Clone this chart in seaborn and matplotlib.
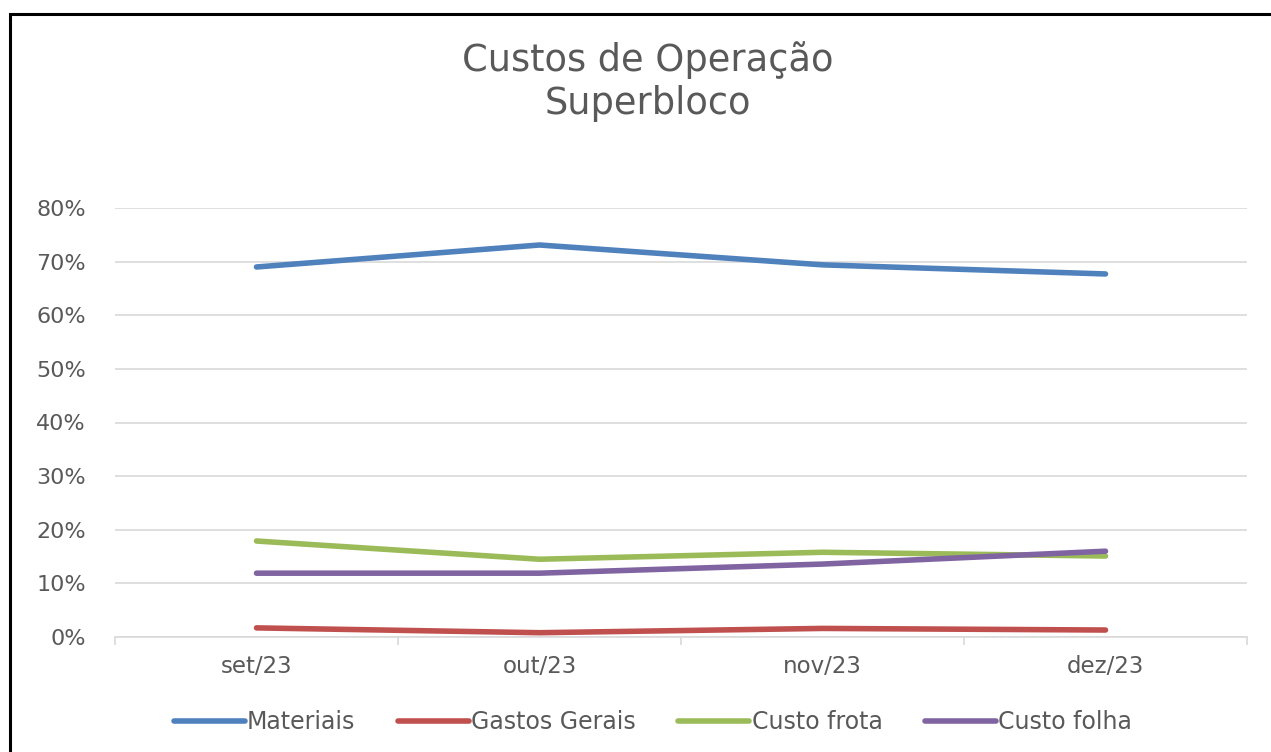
import matplotlib
matplotlib.use("Agg")
import matplotlib.pyplot as plt
from matplotlib.patches import Rectangle
from matplotlib.ticker import FixedLocator, PercentFormatter
import pandas as pd
import seaborn as sns


MONTHS = ["set/23", "out/23", "nov/23", "dez/23"]
MATERIAIS = [0.690, 0.731, 0.694, 0.677]
GASTOS_GERAIS = [0.017, 0.008, 0.016, 0.013]
CUSTO_FROTA = [0.179, 0.145, 0.158, 0.151]
CUSTO_FOLHA = [0.119, 0.119, 0.136, 0.160]
SERIES = ["Materiais", "Gastos Gerais", "Custo frota", "Custo folha"]
COLORS = ["#4F81BD", "#C0504D", "#9BBB59", "#8064A2"]

TEXT = "#595959"
GRID = "#d9d9d9"


def build_frame():
    rows = []
    for name, vals in zip(SERIES, [MATERIAIS, GASTOS_GERAIS, CUSTO_FROTA, CUSTO_FOLHA]):
        for m, v in zip(MONTHS, vals):
            rows.append({"mes": m, "valor": v, "serie": name})
    return pd.DataFrame(rows)


sns.set_theme(style="white")
plt.rcParams["font.family"] = ["DejaVu Sans"]

df = build_frame()

fig = plt.figure(figsize=(12.71, 7.52), dpi=100)
ax = fig.add_axes([115 / 1271, 1 - 637 / 752, (1247 - 115) / 1271, (637 - 208) / 752])

sns.lineplot(data=df, x="mes", y="valor", hue="serie", hue_order=SERIES,
             palette=COLORS, linewidth=4.0, ax=ax, sort=False,
             solid_capstyle="round", solid_joinstyle="round")

ax.set_xlim(-0.5, 3.5)
ax.set_ylim(0, 0.8)
ax.set_yticks([i / 10 for i in range(9)])
ax.yaxis.set_major_formatter(PercentFormatter(1.0, decimals=0))
ax.grid(axis="y", color=GRID, linewidth=1.2)
ax.set_axisbelow(True)
for s in ["top", "right", "left"]:
    ax.spines[s].set_visible(False)
ax.spines["bottom"].set_color(GRID)
ax.spines["bottom"].set_linewidth(1.2)

ax.xaxis.set_minor_locator(FixedLocator([-0.5, 0.5, 1.5, 2.5, 3.5]))
ax.tick_params(axis="x", which="minor", length=6, width=1.2, color=GRID, direction="out", bottom=True)
ax.tick_params(axis="x", which="major", length=0, pad=13, labelsize=16.5, labelcolor=TEXT)
ax.tick_params(axis="y", length=0, pad=21, labelsize=16, labelcolor=TEXT)
ax.set_xlabel("")
ax.set_ylabel("")

leg = ax.legend(loc="center", bbox_to_anchor=(653 / 1271, 1 - 722 / 752),
                bbox_transform=fig.transFigure, ncol=4, frameon=False,
                fontsize=17, handlelength=3.0, handletextpad=0.1, columnspacing=1.8,
                labelcolor=TEXT)
for line in leg.get_lines():
    line.set_linewidth(4.0)
    line.set_solid_capstyle("round")

fig.text(648 / 1271, 1 - 60 / 752, "Custos de Operação", ha="center", va="center",
         fontsize=26.5, color=TEXT)
fig.text(648 / 1271, 1 - 104 / 752, "Superbloco", ha="center", va="center",
         fontsize=26.5, color=TEXT)

fig.patches.append(Rectangle((10 / 1271, -0.05), 1.1, 1.05 - 14 / 752, transform=fig.transFigure,
                             fill=False, edgecolor="black", linewidth=2.2))

fig.savefig("out.png", dpi=100, facecolor="white")
